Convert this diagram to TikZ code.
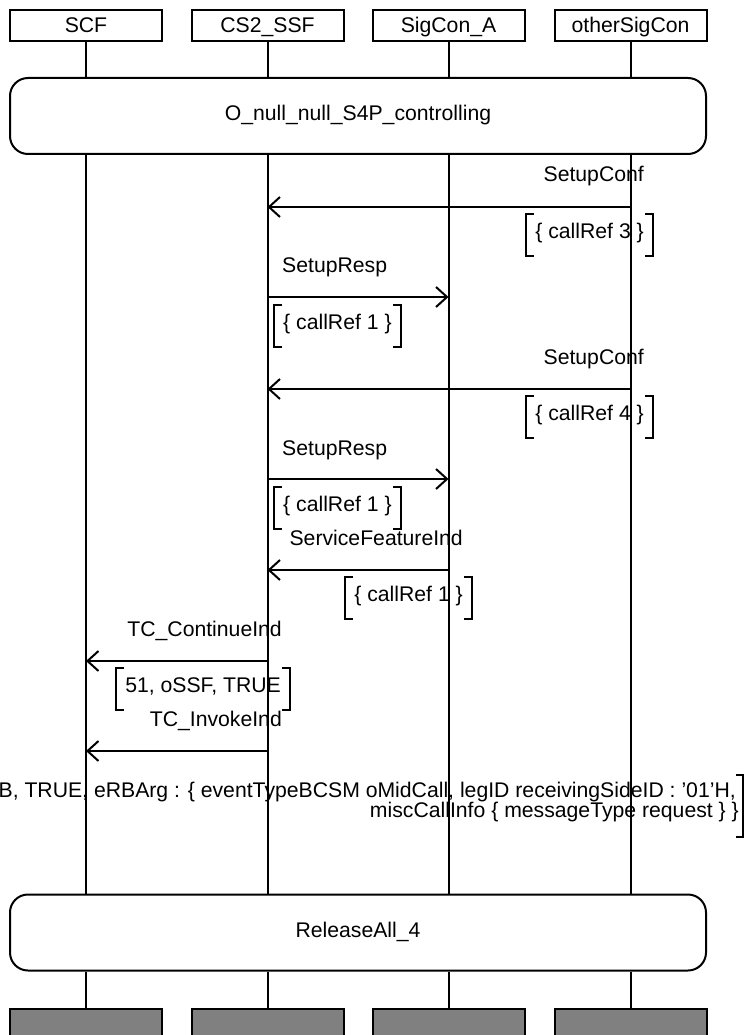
\documentclass[tikz,border=0pt]{standalone}
\usepackage{fontspec}
\setmainfont{Liberation Sans}
\usetikzlibrary{arrows.meta}
\definecolor{boxgray}{RGB}{128,128,128}
\newcommand\drawcondbr[1]{%
  \draw[brk] ([xshift=8pt]#1.north west) -| (#1.south west) -- ++(8,0);
  \draw[brk] ([xshift=-8pt]#1.north east) -| (#1.south east) -- ++(-8,0);}
\begin{document}
\begin{tikzpicture}[x=1pt,y=-1pt,
  every node/.style={font=\fontsize{21.2}{20}\selectfont},
  line/.style={line width=2pt},
  head/.style={draw, line width=2pt, minimum width=152pt, minimum height=31pt, inner sep=0pt, text height=15pt, text depth=0pt},
  endbox/.style={draw, line width=2pt, fill=boxgray, minimum width=152pt, minimum height=40pt, inner sep=0pt, anchor=north},
  phase/.style={draw, line width=2pt, rounded corners=18pt, minimum width=696pt, minimum height=76pt, inner sep=0pt, text height=15pt, text depth=5pt},
  msg/.style={line width=2pt, -{Straight Barb[length=11pt,width=20pt]}},
  lbl/.style={inner sep=0pt},
  cond/.style={inner xsep=9pt, inner ysep=0pt, text height=15pt, text depth=9pt, minimum height=42pt},
  brk/.style={line width=2pt},
]
\useasboundingbox (0,0) rectangle (751,1035);
\clip (0,0) rectangle (751,1035);

% instances
\node[head] (h1) at (86,25.5) {SCF};
\node[head] (h2) at (267.5,25.5) {CS2\_SSF};
\node[head] (h3) at (448.5,25.5) {SigCon\_A};
\node[head] (h4) at (630.5,25.5) {otherSigCon};

% phases
\node[phase] (top) at (358,116) {O\_null\_null\_S4P\_controlling};
\node[phase] (rel) at (358,932.5) {ReleaseAll\_4};

% end boxes
\node[endbox] (g1) at (86,1008) {};
\node[endbox] (g2) at (267.5,1008) {};
\node[endbox] (g3) at (448.5,1008) {};
\node[endbox] (g4) at (630.5,1008) {};

% lifelines
\foreach \i in {1,...,4} {
  \draw[line] (h\i.south) -- (h\i.south |- top.north);
  \draw[line] (h\i.south |- top.south) -- (h\i.south |- rel.north);
  \draw[line] (h\i.south |- rel.south) -- (g\i.north);
}

% message end points
\coordinate (m1s) at (h4.south |- 0,207);
\coordinate (m1t) at (h2.south |- 0,207);
\coordinate (m2s) at (h2.south |- 0,297);
\coordinate (m2t) at (h3.south |- 0,297);
\coordinate (m3s) at (h4.south |- 0,389);
\coordinate (m3t) at (h2.south |- 0,389);
\coordinate (m4s) at (h2.south |- 0,479);
\coordinate (m4t) at (h3.south |- 0,479);
\coordinate (m5s) at (h3.south |- 0,570);
\coordinate (m5t) at (h2.south |- 0,570);
\coordinate (m6s) at (h2.south |- 0,661);
\coordinate (m6t) at (h1.south |- 0,661);
\coordinate (m7s) at (h2.south |- 0,751);
\coordinate (m7t) at (h1.south |- 0,751);

\draw[msg] (m1s) -- (m1t);
\draw[msg] (m2s) -- (m2t);
\draw[msg] (m3s) -- (m3t);
\draw[msg] (m4s) -- (m4t);
\draw[msg] (m5s) -- (m5t);
\draw[msg] (m6s) -- (m6t);
\draw[msg] (m7s) -- (m7t);

% message labels
\node[lbl, anchor=base east] (l1) at (644,182) {SetupConf};
\node[lbl, anchor=base west] (l2) at (282,272) {SetupResp};
\node[lbl, anchor=base east] (l3) at (644,364) {SetupConf};
\node[lbl, anchor=base west] (l4) at (282,455) {SetupResp};
\node[lbl, anchor=base east] (l5) at (463,545) {ServiceFeatureInd};
\node[lbl, anchor=base east] (l6) at (282,636) {TC\_ContinueInd};
\node[lbl, anchor=base east] (l7) at (282,726) {TC\_InvokeInd};

% conditions
\node[cond, anchor=north east] (c1) at (653,214) {\{ callRef 3 \}};
\node[cond, anchor=north west] (c2) at (274,305) {\{ callRef 1 \}};
\node[cond, anchor=north east] (c3) at (653,396) {\{ callRef 4 \}};
\node[cond, anchor=north west] (c4) at (274,487) {\{ callRef 1 \}};
\node[cond, anchor=north east] (c5) at (472,577) {\{ callRef 1 \}};
\node[cond, anchor=north east] (c6) at (290,668) {51, oSSF, TRUE};
\drawcondbr{c1}
\drawcondbr{c2}
\drawcondbr{c3}
\drawcondbr{c4}
\drawcondbr{c5}
\drawcondbr{c6}

\node[lbl, anchor=base east] (c7a) at (736,797) {B, TRUE, eRBArg : \{ eventTypeBCSM oMidCall, legID receivingSideID : ’01’H,};
\node[lbl, anchor=base east] (c7b) at (739,817) {miscCallInfo \{ messageType request \} \}};
\draw[brk] (736,775) -| (743,837) -- (736,837);
\end{tikzpicture}
\end{document}
